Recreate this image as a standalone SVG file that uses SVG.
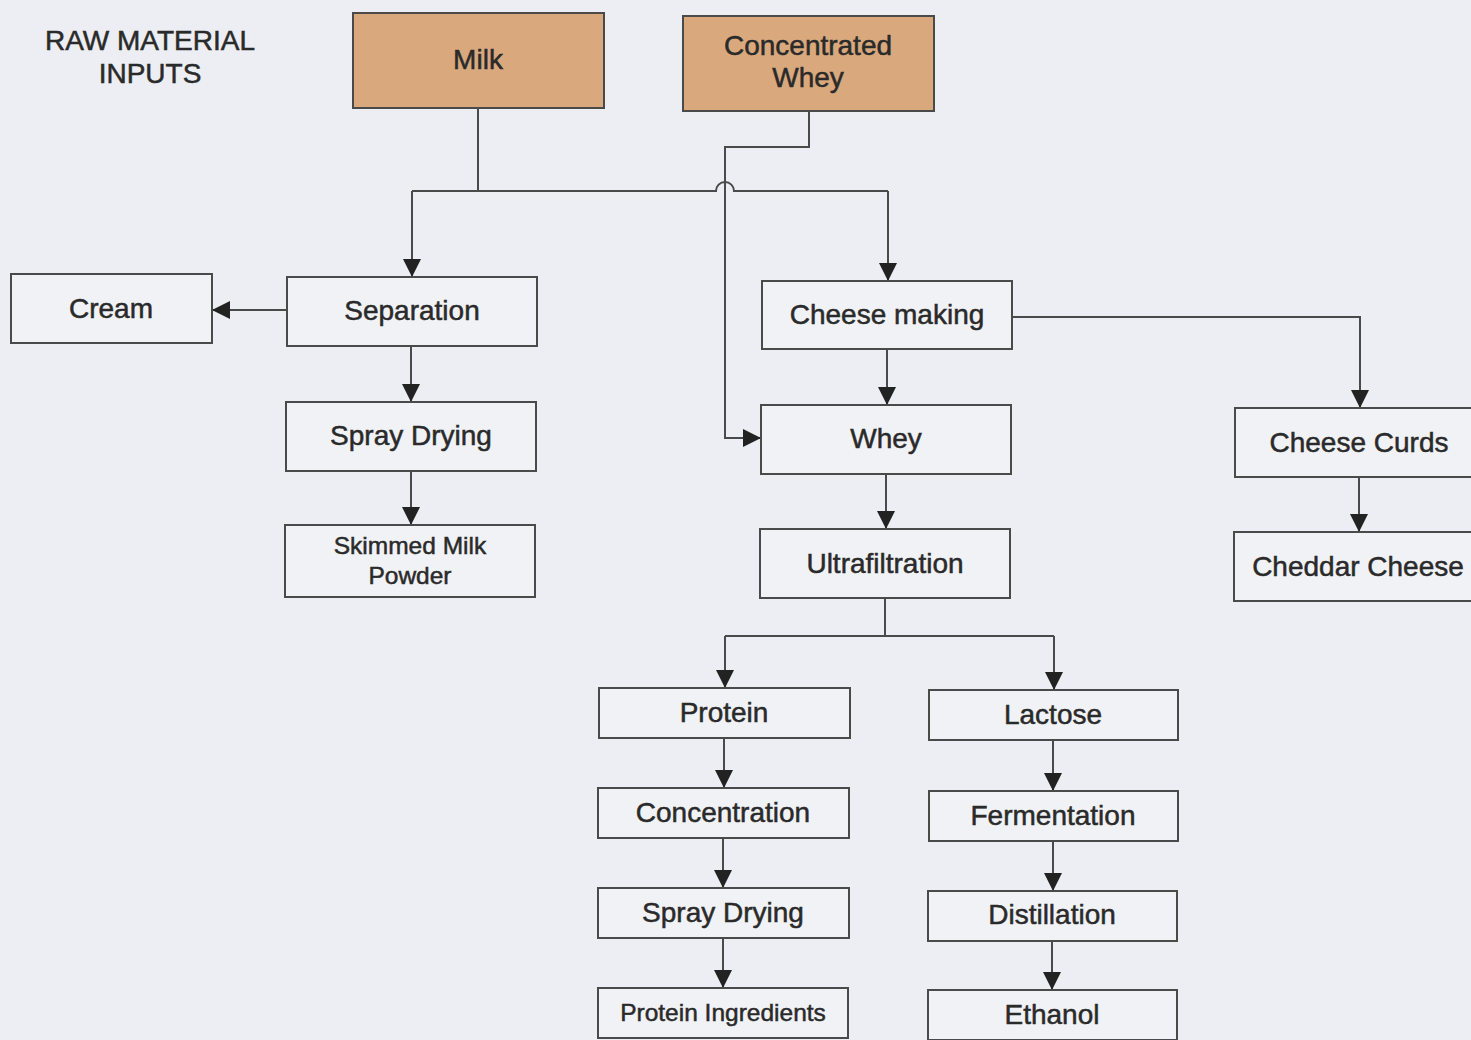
<svg xmlns="http://www.w3.org/2000/svg" width="1471" height="1040" viewBox="0 0 1471 1040">
<style>
.box{fill:#f1f2f6;stroke:#4a4a4a;stroke-width:2}
.raw{fill:#d9a97d;stroke:#4a4a4a;stroke-width:2}
text{font-family:"Liberation Sans",Arial,sans-serif;fill:#2a2a2a;stroke:#2a2a2a;stroke-width:0.5;text-anchor:middle}
.t{font-size:28px}
.s{font-size:24.5px}
.c{fill:none;stroke:#4a4a4a;stroke-width:2}
</style>
<defs>
<marker id="a" viewBox="0 0 18 18" markerWidth="18" markerHeight="18" refX="18" refY="9" orient="auto" markerUnits="userSpaceOnUse">
<path d="M0,0 L18,9 L0,18 Z" fill="#222"/>
</marker>
</defs>
<rect width="1471" height="1040" fill="#eceef3"/>
<text class="t" x="150" y="50">RAW MATERIAL</text>
<text class="t" x="150" y="83">INPUTS</text>

<g id="connectors">
<path class="c" d="M478,108 V191"/>
<path class="c" d="M412,191 H716 A9,9 0 0 1 734,191 H888"/>
<path class="c" d="M412,191 V277" marker-end="url(#a)"/>
<path class="c" d="M888,191 V281" marker-end="url(#a)"/>
<path class="c" d="M809,111 V147 H725 V438 H761" marker-end="url(#a)"/>
<path class="c" d="M287,310 H212" marker-end="url(#a)"/>
<path class="c" d="M411,346 V402" marker-end="url(#a)"/>
<path class="c" d="M411,471 V525" marker-end="url(#a)"/>
<path class="c" d="M887,349 V405" marker-end="url(#a)"/>
<path class="c" d="M886,474 V529" marker-end="url(#a)"/>
<path class="c" d="M1012,317 H1360 V408" marker-end="url(#a)"/>
<path class="c" d="M1359,477 V532" marker-end="url(#a)"/>
<path class="c" d="M885,598 V636"/>
<path class="c" d="M725,636 H1054"/>
<path class="c" d="M725,636 V688" marker-end="url(#a)"/>
<path class="c" d="M1054,636 V690" marker-end="url(#a)"/>
<path class="c" d="M724,738 V788" marker-end="url(#a)"/>
<path class="c" d="M723,838 V888" marker-end="url(#a)"/>
<path class="c" d="M723,938 V988" marker-end="url(#a)"/>
<path class="c" d="M1053,740 V791" marker-end="url(#a)"/>
<path class="c" d="M1053,841 V891" marker-end="url(#a)"/>
<path class="c" d="M1052,941 V990" marker-end="url(#a)"/>
</g>

<g id="milk"><rect class="raw" x="353" y="13" width="251" height="95"/><text class="t" x="478" y="69">Milk</text></g>
<g id="concentrated-whey"><rect class="raw" x="683" y="16" width="251" height="95"/><text class="t" x="808" y="55">Concentrated</text><text class="t" x="808" y="87">Whey</text></g>
<g id="cream"><rect class="box" x="11" y="274" width="201" height="69"/><text class="t" x="111" y="318">Cream</text></g>
<g id="separation"><rect class="box" x="287" y="277" width="250" height="69"/><text class="t" x="412" y="320">Separation</text></g>
<g id="spray-drying-1"><rect class="box" x="286" y="402" width="250" height="69"/><text class="t" x="411" y="445">Spray Drying</text></g>
<g id="skimmed-milk-powder"><rect class="box" x="285" y="525" width="250" height="72"/><text class="s" x="410" y="554">Skimmed Milk</text><text class="s" x="410" y="584">Powder</text></g>
<g id="cheese-making"><rect class="box" x="762" y="281" width="250" height="68"/><text class="t" x="887" y="324">Cheese making</text></g>
<g id="whey"><rect class="box" x="761" y="405" width="250" height="69"/><text class="t" x="886" y="448">Whey</text></g>
<g id="ultrafiltration"><rect class="box" x="760" y="529" width="250" height="69"/><text class="t" x="885" y="573">Ultrafiltration</text></g>
<g id="cheese-curds"><rect class="box" x="1235" y="408" width="250" height="69"/><text class="t" x="1359" y="452">Cheese Curds</text></g>
<g id="cheddar-cheese"><rect class="box" x="1234" y="532" width="250" height="69"/><text class="t" x="1358" y="576">Cheddar Cheese</text></g>
<g id="protein"><rect class="box" x="599" y="688" width="251" height="50"/><text class="t" x="724" y="722">Protein</text></g>
<g id="concentration"><rect class="box" x="598" y="788" width="251" height="50"/><text class="t" x="723" y="822">Concentration</text></g>
<g id="spray-drying-2"><rect class="box" x="598" y="888" width="251" height="50"/><text class="t" x="723" y="922">Spray Drying</text></g>
<g id="protein-ingredients"><rect class="box" x="598" y="988" width="250" height="50"/><text class="s" x="723" y="1021">Protein Ingredients</text></g>
<g id="lactose"><rect class="box" x="929" y="690" width="249" height="50"/><text class="t" x="1053" y="724">Lactose</text></g>
<g id="fermentation"><rect class="box" x="929" y="791" width="249" height="50"/><text class="t" x="1053" y="825">Fermentation</text></g>
<g id="distillation"><rect class="box" x="928" y="891" width="249" height="50"/><text class="t" x="1052" y="924">Distillation</text></g>
<g id="ethanol"><rect class="box" x="928" y="990" width="249" height="50"/><text class="t" x="1052" y="1024">Ethanol</text></g>
</svg>
